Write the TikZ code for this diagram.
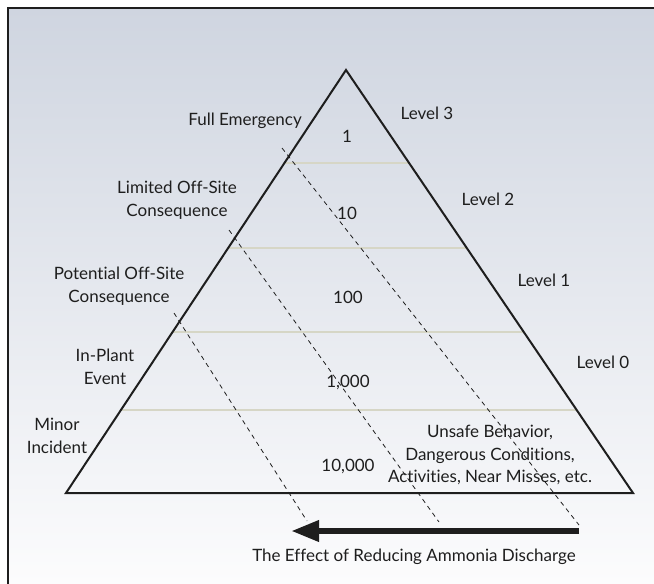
\documentclass[tikz,border=0pt]{standalone}
\usepackage{fontspec}
\setmainfont{Lato}[Ligatures={NoCommon}]
\usetikzlibrary{arrows.meta,calc}
\definecolor{bgtop}{RGB}{207,213,224}
\definecolor{bgbot}{RGB}{252,252,253}
\definecolor{tiergray}{RGB}{214,214,198}
\definecolor{ink}{RGB}{30,30,30}
\tikzset{
  txt/.style={font=\fontsize{17}{22.5}\selectfont, text=ink, align=center, inner sep=0pt},
  tierline/.style={draw=tiergray, line width=1.5pt},
  pyramid/.style={draw=ink, line width=2pt, line join=miter},
  reduce/.style={draw=ink, line width=0.8pt, dash pattern=on 4.5pt off 4pt},
  push/.style={draw=ink, line width=6.5pt, -{Triangle[length=28pt,width=20pt]}}
}

\begin{document}
\begin{tikzpicture}[x=1pt,y=-1pt]
  \useasboundingbox (0,0) rectangle (654,584);
  % Background and frame
  \fill[white] (0,0) rectangle (654,584);
  \shade[top color=bgtop, bottom color=bgbot] (8,8) rectangle (654,584);
  \draw[ink, line width=1.5pt] (8,590) -- (8,8) -- (660,8);

  % Pyramid
  \coordinate (apex) at (346,70);
  \coordinate (bl) at (66,493);
  \coordinate (br) at (633,493);
  \foreach \t in {0.2199,0.4208,0.6194,0.8038}{
      \draw[tierline] ($(apex)!\t!(bl)$) -- ($(apex)!\t!(br)$);
    }
  \draw[pyramid] (apex) -- (bl) -- (br) -- cycle;

  % Counts
  \node[txt] (n1) at (347,136) {1};
  \node[txt] (n10) at (347,213) {10};
  \node[txt] (n100) at (348,297) {100};
  \node[txt] (n1000) at (348,382) {1,000};
  \node[txt] (n10000) at (348,466) {10,000};

  % Left labels
  \node[txt] (full) at (245,121) {Full Emergency};
  \node[txt] (limited) at (177,200) {Limited Off-Site\\Consequence};
  \node[txt] (potential) at (119,286) {Potential Off-Site\\Consequence};
  \node[txt] (inplant) at (105,367) {In-Plant\\Event};
  \node[txt] (minor) at (57,436) {Minor\\Incident};

  % Right labels
  \node[txt] (lv3) at (427,113) {Level 3};
  \node[txt] (lv2) at (488,199) {Level 2};
  \node[txt] (lv1) at (544,280) {Level 1};
  \node[txt] (lv0) at (603,362) {Level 0};
  \node[txt] (unsafe) at (490,455) {Unsafe Behavior,\\Dangerous Conditions,\\Activities, Near Misses, etc.};

  % Shift lines
  \foreach \n/\sx/\sy/\ex/\ey in {1/282/148/579/525, 2/229/230/439/522, 3/174/313/307/521}{
      \coordinate (s\n) at (\sx,\sy);
      \coordinate (e\n) at (\ex,\ey);
      \draw[reduce] (s\n) -- (e\n);
    }

  % Arrow
  \coordinate (tail) at (579,531);
  \coordinate (tip) at (291,531);
  \draw[push] (tail) -- (tip);
  \node[txt] (caption) at (414,557) {The Effect of Reducing Ammonia Discharge};
\end{tikzpicture}
\end{document}
